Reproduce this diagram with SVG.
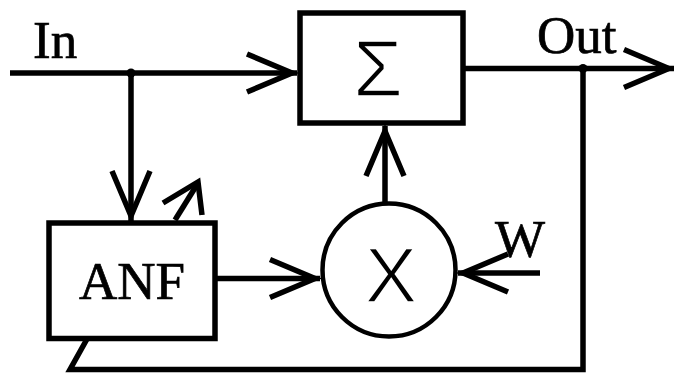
<svg xmlns="http://www.w3.org/2000/svg" width="674" height="374" viewBox="0 0 674 374">
  <style>
    .box { fill: #fff; stroke: #000; stroke-width: 5.5; }
    .wire { fill: none; stroke: #000; stroke-width: 5.5; stroke-linejoin: miter; stroke-miterlimit: 10; }
    .lbl { font-family: "Liberation Serif", "Times New Roman", serif; font-size: 53px; fill: #000; stroke: #000; stroke-width: 0.7; }
    /* thin operator glyphs: a white outline trims the stems */
    .sym { font-family: "Liberation Sans", Arial, sans-serif; fill: #000; stroke: #fff; stroke-width: 1.6; text-anchor: middle; }
  </style>
  <defs>
    <!-- open V arrowhead, tip at the end of the line -->
    <marker id="ah" markerUnits="userSpaceOnUse" orient="auto" refX="0" refY="0" markerWidth="1" markerHeight="1" style="overflow:visible">
      <path d="M-50,-19 L-5,0 L-50,19" fill="none" stroke="#000" stroke-width="5.5" stroke-linejoin="miter" stroke-miterlimit="10"/>
    </marker>
  </defs>

  <rect width="674" height="374" fill="#fff"/>

  <!-- connectors -->
  <g id="connectors">
    <!-- input to summer -->
    <line class="wire" x1="10" y1="73" x2="297" y2="73" marker-end="url(#ah)"/>
    <!-- input tap down to ANF -->
    <line class="wire" x1="131" y1="73" x2="131" y2="221" marker-end="url(#ah)"/>
    <!-- ANF to multiplier -->
    <line class="wire" x1="215" y1="278.5" x2="320" y2="278.5" marker-end="url(#ah)"/>
    <!-- weight into multiplier -->
    <line class="wire" x1="540" y1="273" x2="458" y2="273" marker-end="url(#ah)"/>
    <!-- multiplier up to summer -->
    <line class="wire" x1="385" y1="203" x2="385" y2="126" marker-end="url(#ah)"/>
    <!-- summer output -->
    <line class="wire" x1="463" y1="68.5" x2="674" y2="68.5" marker-end="url(#ah)"/>
    <!-- error feedback back to ANF -->
    <polyline class="wire" points="583,68.5 583,369.5 70,369.5 87,339"/>
    <!-- adaptation arrow on ANF -->
    <line class="wire" x1="175" y1="220" x2="198" y2="183"/>
    <polyline class="wire" points="163,203 198,182 202,215"/>
    <!-- junction dots -->
    <circle cx="131" cy="73" r="4.5" fill="#000"/>
    <circle cx="583" cy="68.5" r="4.5" fill="#000"/>
  </g>

  <!-- summer -->
  <g id="sum">
    <rect class="box" x="300" y="13" width="163" height="110"/>
    <text class="sym" x="378" y="96" font-size="80">Σ</text>
  </g>

  <!-- multiplier -->
  <g id="mult">
    <circle cx="389" cy="270" r="66.5" fill="#fff" stroke="#000" stroke-width="4.5"/>
    <text class="sym" x="391" y="302" font-size="78">X</text>
  </g>

  <!-- adaptive notch filter -->
  <g id="anf">
    <rect class="box" x="49" y="223" width="166" height="115.5"/>
    <text class="lbl" x="132" y="299" text-anchor="middle">ANF</text>
  </g>

  <!-- signal labels -->
  <g id="labels">
    <text class="lbl" x="33" y="58">In</text>
    <text class="lbl" x="537" y="52.5">Out</text>
    <text class="lbl" x="495" y="257">W</text>
  </g>
</svg>
